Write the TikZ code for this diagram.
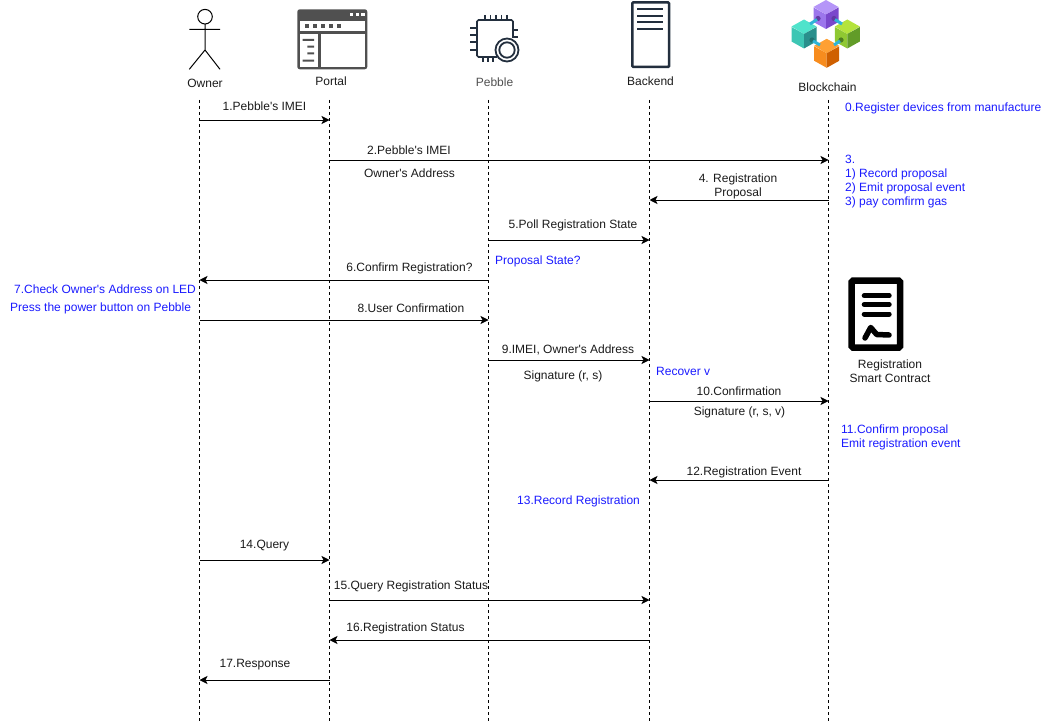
\documentclass[tikz,border=0pt]{standalone}
\usepackage{fontspec}
\newfontfamily\lib{Liberation Sans}
\usetikzlibrary{arrows.meta}
\definecolor{blu}{HTML}{1A1AFF}
\definecolor{txt}{HTML}{1A1A1A}
\definecolor{gry}{HTML}{505050}
\definecolor{navy}{HTML}{232F3E}
\definecolor{link}{HTML}{2FB4D8}
\definecolor{pA}{HTML}{B595F8}\definecolor{pB}{HTML}{9C76EC}\definecolor{pC}{HTML}{7A48CC}
\definecolor{tA}{HTML}{4FE3CB}\definecolor{tB}{HTML}{3DC6B4}\definecolor{tC}{HTML}{2A8F8C}
\definecolor{gA}{HTML}{B4E33C}\definecolor{gB}{HTML}{8FC832}\definecolor{gC}{HTML}{629C28}
\definecolor{oA}{HTML}{FFA033}\definecolor{oB}{HTML}{F78C1E}\definecolor{oC}{HTML}{CF6000}
\tikzset{
 lab/.style={inner sep=0,font=\lib\fontsize{12}{14}\selectfont,text=txt,align=center},
 note/.style={inner sep=0,font=\lib\fontsize{12}{14}\selectfont,text=blu,align=left},
 life/.style={draw=black,dash pattern=on 3pt off 3pt,line width=.9pt},
 msg/.style={draw=black,line width=.9pt,-{Stealth[length=8pt,width=8pt,inset=2pt]}},
}
\newcommand{\cubeicon}[5]{%
 \fill[#3] (#1,#2) ++(0,-14.5) -- ++(12.5,7) -- ++(-12.5,7.5) -- ++(-12.5,-7.5) -- cycle;
 \fill[#4] (#1,#2) ++(-12.5,-7) -- ++(12.5,7) -- ++(0,14.5) -- ++(-12.5,-7) -- cycle;
 \fill[#5] (#1,#2) ++(12.5,-7) -- ++(-12.5,7) -- ++(0,14.5) -- ++(12.5,-7) -- cycle;
}
\begin{document}
\begin{tikzpicture}[x=1pt,y=-1pt]
\useasboundingbox (0,0) rectangle (1054,722);
% --- head labels
\node[lab] (owner) at (205,83.3) {Owner};
\node[lab] (portal) at (331,81) {Portal};
\node[lab,text=gry] (pebble) at (494.5,82.3) {Pebble};
\node[lab] (backend) at (650.5,81.3) {Backend};
\node[lab] (chain) at (827.5,87.3) {Blockchain};
\node[lab] (contract) at (890,371.5) {Registration\\Smart Contract};
% --- lifelines
\foreach \n/\x in {o/199.5,p/329.5,e/488.5,b/649.5,c/828.5}{
 \coordinate (\n top) at (\x,100);
 \coordinate (\n bot) at (\x,722);
 \draw[life] (\n top) -- (\n bot);
 \foreach \y in {120,160,200,240,280,320,360,401,480,560,600,640,680}
  \coordinate (\n\y) at (\x,\y);
}
% --- messages
\draw[msg] (o120) -- (p120);
\draw[msg] (p160) -- (c160);
\draw[msg] (c200) -- (b200);
\draw[msg] (e240) -- (b240);
\draw[msg] (e280) -- (o280);
\draw[msg] (o320) -- (e320);
\draw[msg] (e360) -- (b360);
\draw[msg] (b401) -- (c401);
\draw[msg] (c480) -- (b480);
\draw[msg] (o560) -- (p560);
\draw[msg] (p600) -- (b600);
\draw[msg] (b640) -- (p640);
\draw[msg] (p680) -- (o680);
% --- message labels
\node[lab] (m1) at (264.5,106.4) {1.Pebble's IMEI};
\node[lab] (m2) at (409,150.4) {2.Pebble's IMEI};
\node[lab] (m2b) at (409.5,173.4) {Owner's Address};
\node[lab] (m4) at (738,186.5) {4. Registration\\Proposal};
\node[lab] (m5) at (573,225.4) {5.Poll Registration State};
\node[lab] (m6) at (409.5,268.4) {6.Confirm Registration?};
\node[lab] (m8) at (411,308.4) {8.User Confirmation};
\node[lab] (m9) at (568,350.4) {9.IMEI, Owner's Address};
\node[lab] (m9b) at (563,376) {Signature (r, s)};
\node[lab] (m10) at (739,391.4) {10.Confirmation};
\node[lab] (m10b) at (739.5,412) {Signature (r, s, v)};
\node[lab] (m12) at (744,472) {12.Registration Event};
\node[lab] (m14) at (264.5,546) {14.Query};
\node[lab] (m15) at (411,586) {15.Query Registration Status};
\node[lab] (m16) at (405.5,628) {16.Registration Status};
\node[lab] (m17) at (255,665) {17.Response};
% --- blue notes
\node[note,anchor=west] (n0) at (845,108) {0.Register devices from manufacture};
\node[note,anchor=north west] (n3) at (845,155) {3.\\1) Record proposal\\2) Emit proposal event\\3) pay comfirm gas};
\node[note,anchor=west] (np) at (495,261.5) {Proposal State?};
\node[note,anchor=west] (n7) at (14,289.5) {7.Check Owner's Address on LED};
\node[note,anchor=west] (n7b) at (10,308.5) {Press the power button on Pebble};
\node[note,anchor=west] (nr) at (656,371.5) {Recover v};
\node[note,anchor=north west] (n11) at (841,425) {11.Confirm proposal\\Emit registration event};
\node[note,anchor=west] (n13) at (517,501.5) {13.Record Registration};
% --- Owner actor
\draw[line width=1pt,black] (205,16.7) circle (7.3)
  (205,24) -- (205,50) (189.3,29.3) -- (220,29.3) (205,50) -- (189.3,69.3) (205,50) -- (220,69.3);
% --- Portal icon
\fill[gry,rounded corners=2.5pt] (297.3,9.3) rectangle (367.3,69.3);
\fill[white] (300,20.7) rectangle (365,30.7);
\fill[white] (300,34.3) rectangle (317.7,66.7);
\fill[white] (321,34.3) rectangle (365,66.7);
\foreach \x in {351.5,357.5,363}\fill[white] (\x-1.7,13.3) rectangle (\x+1.7,15.7);
\foreach \x in {306.7,315,322.7,330.7,339}\fill[gry] (\x-1.8,24) rectangle (\x+1.8,28.3);
\fill[gry] (302.7,39) rectangle (314,41) (307.3,45.7) rectangle (314,47.7) (307.3,52.3) rectangle (314,54.3) (302.7,59.7) rectangle (314,61.7);
% --- Pebble icon
\begin{scope}[navy,line width=1.6pt]
\draw[rounded corners=1.5pt] (497,57) -- (477,57) -- (477,20) -- (513,20) -- (513,38);
\foreach \x in {485,490.5,496,501.5,507}\draw (\x,15) -- (\x,20);
\foreach \y in {28,35,42,50}\draw (470,\y) -- (477,\y);
\foreach \x in {483,488,493}\draw (\x,57) -- (\x,62);
\draw (513,30) -- (518,30) (513,37) -- (518,37);
\draw[fill=white,line width=1.8pt] (507,50) circle (11.5);
\draw[line width=1.8pt] (507,50) circle (7.7);
\end{scope}
% --- Backend icon
\draw[navy,line width=2.5pt,rounded corners=1pt,fill=white] (632.3,2.3) rectangle (669,67);
\foreach \y in {9,15.7,22.3,29.3}\draw[navy,line width=2pt] (637.3,\y) -- (663.3,\y);
% --- Blockchain icon
\cubeicon{826}{14.5}{pA}{pB}{pC}
\cubeicon{804}{34}{tA}{tB}{tC}
\cubeicon{847.3}{34}{gA}{gB}{gC}
\cubeicon{826.7}{53.3}{oA}{oB}{oC}
\fill[pC!80!black] (818,18.5) circle (2.6);
\fill[pC!80!black] (834,18.5) circle (2.6);
\fill[tC!80!black] (812,40) circle (2.6);
\fill[gC!80!black] (841,40) circle (2.6);
\draw[link,line width=3pt] (817,19.5) -- (810,24) (835,19.5) -- (842,24) (813,41) -- (820,45) (840,41) -- (834,45);
% --- Contract icon
\draw[black,line width=6.5pt,rounded corners=1.5pt,fill=white] (851.6,280.5) rectangle (900,347.7);
\foreach \y in {295.7,304.5,314}\draw[black,line width=5pt,line cap=round] (864.2,\y) -- (889.2,\y);
\draw[black,line width=5.5pt,line cap=round,line join=round] (865,338) -- (870.7,327.5) -- (876.7,334.5) -- (889,335);
\end{tikzpicture}
\end{document}
